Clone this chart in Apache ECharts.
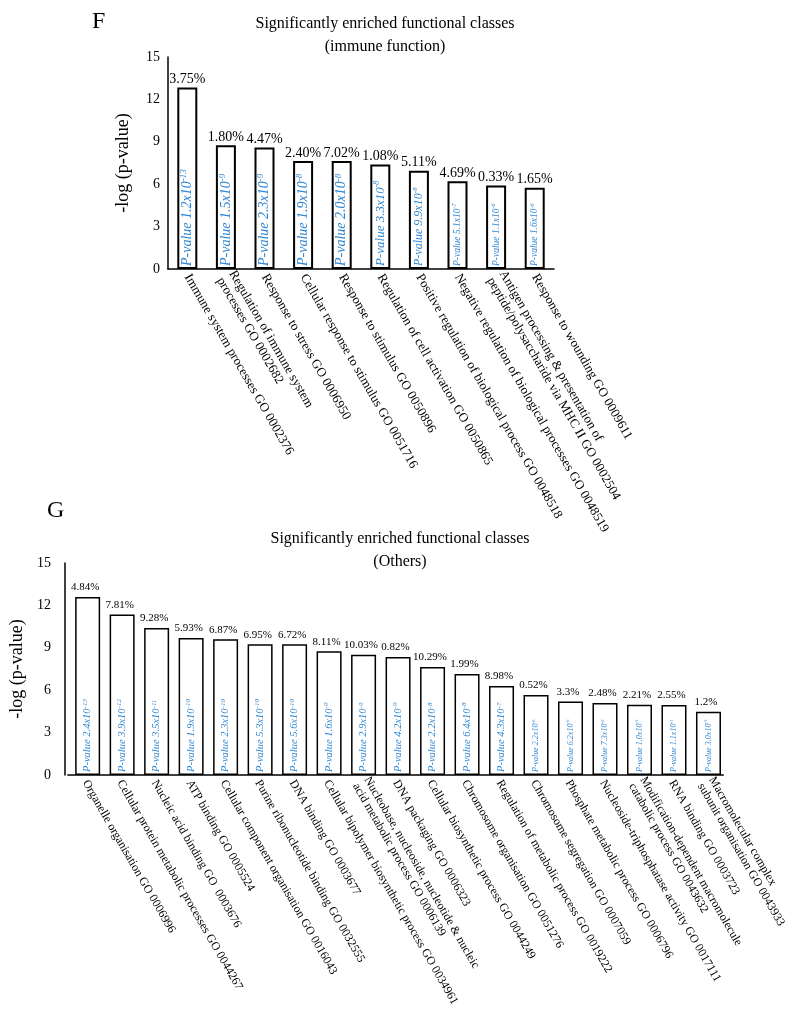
<!DOCTYPE html>
<html><head><meta charset="utf-8">
<script src="https://cdn.jsdelivr.net/npm/echarts@6/dist/echarts.min.js"></script>
<style>html,body{margin:0;padding:0;background:#fff}#c{width:800px;height:1019px}</style>
</head><body><div id="c"></div>
<script>
// ---------- Panel F: immune function ----------
const immuneCategories = [
  'Immune system processes GO 0002376',
  'Regulation of immune system\nprocesses GO 0002682',
  'Response to stress GO 0006950',
  'Cellular response to stimulus GO 0051716',
  'Response to stimulus GO 0050896',
  'Regulation of cell activation GO 0050865',
  'Positive regulation of biological process GO 0048518',
  'Negative regulation of biological processes GO 0048519',
  'Antigen processing & presentation of\npeptide/polysaccharide via MHC II GO 0002504',
  'Response to wounding GO 0009611'
];
const immuneValues = [12.85, 8.75, 8.6, 7.65, 7.65, 7.4, 6.95, 6.2, 5.9, 5.75];
const immunePercent = ['3.75%', '1.80%', '4.47%', '2.40%', '7.02%', '1.08%', '5.11%', '4.69%', '0.33%', '1.65%'];
const immunePMant = ['1.2', '1.5', '2.3', '1.9', '2.0', '3.3', '9.9', '5.1', '1.1', '1.6'];
const immunePExp = ['-13', '-9', '-9', '-8', '-8', '-8', '-8', '-7', '-6', '-6'];

// ---------- Panel G: others ----------
const otherCategories = [
  'Organelle organisation GO 0006996',
  'Cellular protein metabolic processes GO 0044267',
  'Nucleic acid binding GO  0003676',
  'ATP binding GO 0005524',
  'Cellular component organisation GO 0016043',
  'Purine ribonucleotide binding GO 0032555',
  'DNA binding GO 0003677',
  'Cellular bipolymer biosynthetic process GO 0034961',
  'Nucleobase, nucleoside, nucleotide & nucleic\nacid metabolic process GO 0006139',
  'DNA packaging GO 0006323',
  'Cellular biosynthetic process GO 0044249',
  'Chromosome organisation GO 0051276',
  'Regulation of metabolic process GO 0019222',
  'Chromosome segregation GO 0007059',
  'Phosphate metabolic process GO 0006796',
  'Nucleoside-triphosphatase activity GO 0017111',
  'Modification-dependent macromolecule\ncatabolic process GO 0043632',
  'RNA binding GO 0003723',
  'Macromolecular complex\nsubunit organisation GO 0043933'
];
const otherValues = [12.6, 11.35, 10.4, 9.7, 9.6, 9.25, 9.25, 8.75, 8.5, 8.35, 7.65, 7.15, 6.3, 5.66, 5.2, 5.1, 4.97, 4.95, 4.48];
const otherPercent = ['4.84%', '7.81%', '9.28%', '5.93%', '6.87%', '6.95%', '6.72%', '8.11%', '10.03%', '0.82%',
  '10.29%', '1.99%', '8.98%', '0.52%', '3.3%', '2.48%', '2.21%', '2.55%', '1.2%'];
const otherPMant = ['2.4', '3.9', '3.5', '1.9', '2.3', '5.3', '5.6', '1.6', '2.9', '4.2', '2.2', '6.4', '4.3', '2.2', '6.2', '7.3', '1.0', '1.1', '3.0'];
const otherPExp = ['-13', '-12', '-11', '-10', '-10', '-10', '-10', '-9', '-9', '-9', '-8', '-8', '-7', '-6', '-6', '-6', '-5', '-5', '-5'];

const yTicks = [0, 3, 6, 9, 12, 15];

// ---------- styling (kept separate from data) ----------
const SERIF = '"Liberation Serif", "DejaVu Serif", serif';
const BLUE = '#2f87d4';
const immuneLabelSize = [14, 14, 14, 14, 14, 13, 12, 9.5, 9.5, 9.5];
const otherLabelSize = [10.5, 10.5, 10.5, 10.5, 10.5, 10.5, 10.5, 10.5, 10.5, 10.5, 10.5, 10.5, 10.5, 8, 8, 8, 8, 8, 8];

function pData(values, mant, exp, sizes) {
  return values.map((v, i) => ({
    value: v,
    label: {
      formatter: '{t|P-value ' + mant[i] + 'x10}{s|' + exp[i] + '}',
      rich: {
        t: { fontSize: sizes[i], fontStyle: 'italic', fontFamily: SERIF, color: BLUE, lineHeight: sizes[i] + 2 },
        s: { fontSize: Math.round(sizes[i] * 0.62), fontStyle: 'italic', fontFamily: SERIF, color: BLUE,
             lineHeight: Math.round(sizes[i] * 0.62), verticalAlign: 'top' }
      }
    }
  }));
}

function yAxis(gi, offset, margin, nameGap) {
  return {
    type: 'value', gridIndex: gi, min: yTicks[0], max: yTicks[yTicks.length - 1], interval: yTicks[1] - yTicks[0],
    offset: offset,
    name: '-log (p-value)', nameLocation: 'middle', nameRotate: 90, nameGap: nameGap,
    nameTextStyle: { fontFamily: SERIF, fontSize: 18, color: '#000' },
    axisLine: { show: true, lineStyle: { color: '#000', width: 1.5 } },
    axisTick: { show: false }, splitLine: { show: false },
    axisLabel: { fontFamily: SERIF, fontSize: 14, color: '#000', margin: margin }
  };
}
function xAxis(gi, cats, size) {
  return {
    type: 'category', gridIndex: gi, data: cats,
    axisLine: { lineStyle: { color: '#000', width: 1.5 } },
    axisTick: { show: false },
    axisLabel: { interval: 0, rotate: -60, fontFamily: SERIF, fontSize: size, color: '#000', margin: 6, lineHeight: size + 1 }
  };
}
function barSeries(gi, values, mant, exp, sizes, bw, bwidth) {
  return {
    type: 'bar', xAxisIndex: gi, yAxisIndex: gi, barWidth: bw, barGap: '-100%',
    itemStyle: { color: '#fff', borderColor: '#000', borderWidth: bwidth },
    label: { show: true, position: 'insideBottom', rotate: 90, align: 'left', verticalAlign: 'middle', distance: 3 },
    data: pData(values, mant, exp, sizes), z: 2
  };
}
function pctSeries(gi, values, pct, size, dist) {
  return {
    type: 'bar', xAxisIndex: gi, yAxisIndex: gi, barGap: '-100%', barWidth: 20,
    itemStyle: { color: 'rgba(0,0,0,0)', borderWidth: 0 },
    label: { show: true, position: 'top', distance: dist, fontFamily: SERIF, fontSize: size, color: '#000',
             formatter: p => pct[p.dataIndex] },
    data: values, z: 3, silent: true
  };
}

const chart = echarts.init(document.getElementById('c'), null, { renderer: 'canvas' });
chart.setOption({
  backgroundColor: '#fff',
  animation: false,
  graphic: [
    { type: 'text', x: 92, y: 10, style: { text: 'F', font: '24px ' + SERIF, fill: '#000' } },
    { type: 'text', x: 47, y: 499, style: { text: 'G', font: '24px ' + SERIF, fill: '#000' } },
    { type: 'text', x: 385, y: 12, style: { text: 'Significantly enriched functional classes\n(immune function)',
      font: '16px ' + SERIF, fill: '#000', textAlign: 'center', lineHeight: 23 } },
    { type: 'text', x: 400, y: 527, style: { text: 'Significantly enriched functional classes\n(Others)',
      font: '16px ' + SERIF, fill: '#000', textAlign: 'center', lineHeight: 23 } }
  ],
  grid: [
    { left: 168, width: 386, top: 57, height: 212 },
    { left: 64, width: 660, top: 563, height: 212 }
  ],
  xAxis: [xAxis(0, immuneCategories, 13), xAxis(1, otherCategories, 12)],
  yAxis: [yAxis(0, 0, 8, 36), yAxis(1, 3, 14, 27)],
  series: [
    barSeries(0, immuneValues, immunePMant, immunePExp, immuneLabelSize, 20, 2),
    pctSeries(0, immuneValues, immunePercent, 14, 1),
    barSeries(1, otherValues, otherPMant, otherPExp, otherLabelSize, 25, 1.5),
    pctSeries(1, otherValues, otherPercent, 11, 4)
  ]
});
</script></body></html>
